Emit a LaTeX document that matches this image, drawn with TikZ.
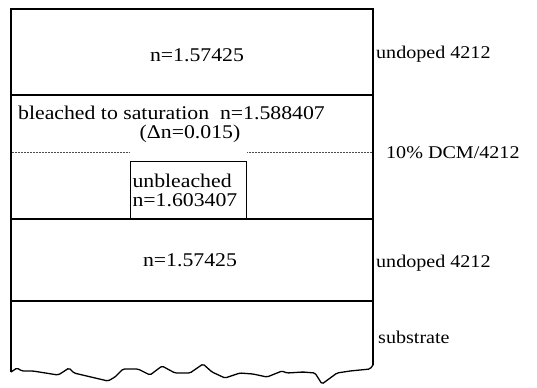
\documentclass[tikz,border=0pt]{standalone}
\usepackage{fontspec}
\setmainfont[FakeStretch=1.12]{Liberation Serif}
\usetikzlibrary{positioning}

\begin{document}
\begin{tikzpicture}[x=1bp, y=-1bp,
  wall/.style={line width=1.3bp, black},
  layerline/.style={line width=1.3bp, black},
  cutline/.style={line width=0.5bp, black!70, densely dotted},
  index/.style={font=\fontsize{19.5}{19}\selectfont, inner sep=0pt},
  side/.style={font=\fontsize{18}{18}\selectfont, inner sep=0pt, anchor=west},
  core/.style={draw, line width=1.1bp, font=\fontsize{19.5}{18.5}\selectfont,
               align=left, inner sep=1.5bp, anchor=north west,
               minimum width=116bp, minimum height=58bp, text width=112bp}
]
\useasboundingbox (0,0) rectangle (537,387);
% layer stack
\coordinate (tl) at (11,9);
\coordinate (tr) at (373,9);
\coordinate (bl) at (11,372);
\coordinate (br) at (373,365);
\draw[wall] (bl) -- (tl) -- (tr) -- (br);
\draw[layerline] (11,95) -- (373,95);
\draw[layerline] (11,219) -- (373,219);
\draw[layerline] (11,301) -- (373,301);
% rough cut of the substrate
\draw[wall, rounded corners=1.5bp] (bl) -- (17,368) -- (22,371) -- (33,371) -- (58,375)
  -- (63,372) -- (69,368) -- (74,373) -- (108,381) -- (115,377) -- (123,369)
  -- (138,369) -- (150,375) -- (162,366) -- (175,373) -- (190,373) -- (203,364)
  -- (212,372) -- (225,378) -- (240,373) -- (253,374) -- (267,377) -- (282,371)
  -- (287,373) -- (303,372) -- (315,373) -- (322,384) -- (337,373) -- (350,371)
  -- (370,369) -- (br);
\node[core] (core) at (130,161) {unbleached\\n=1.603407};
\draw[cutline] (12,152) -- (core.west |- 0,152);
\draw[cutline] (core.east |- 0,152) -- (372,152);
\node[index] (top) at (197,55) {n=1.57425};
\node[index, anchor=west] (bleach) at (18,113) {bleached to saturation\ \ n=1.588407};
\node[index] (delta) at (190,134) {(Δn=0.015)};
\node[index] (bottom) at (190,260) {n=1.57425};
\node[side] (cladtop) at (376,54) {undoped 4212};
\node[side] (guide) at (386,153) {10\% DCM/4212};
\node[side] (cladbot) at (376,263) {undoped 4212};
\node[side] (subst) at (378,337) {substrate};
\end{tikzpicture}
\end{document}
